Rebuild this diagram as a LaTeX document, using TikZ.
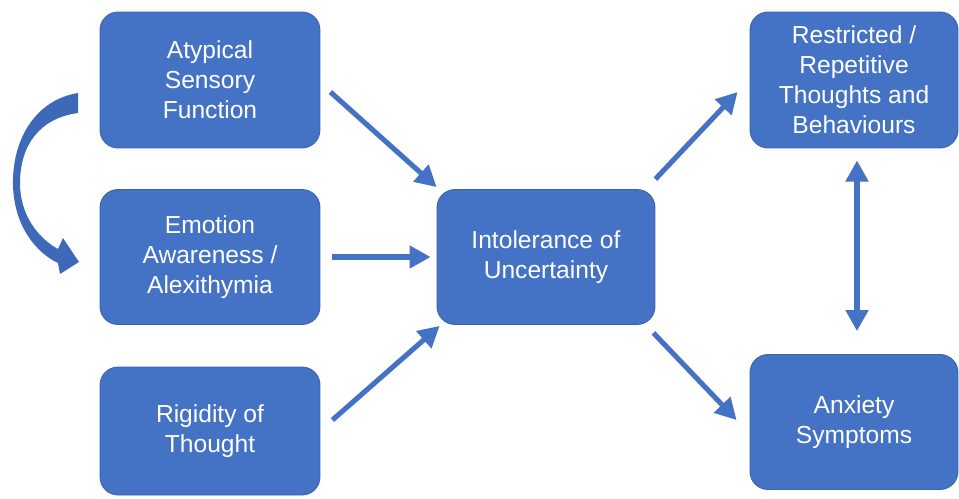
\documentclass[tikz,border=0pt]{standalone}
\usepackage{fontspec}
\setmainfont{Liberation Sans}
\usepackage{xcolor}
\usepackage{tikz}
\usetikzlibrary{arrows.meta}
\definecolor{IUBlue}{HTML}{4472C4}
\definecolor{IUEdge}{HTML}{3A63AE}
\definecolor{IUCurve}{HTML}{3D69B8}

\begin{document}
\begin{tikzpicture}[x=0.02cm,y=-0.02cm,
  box/.style={fill=IUBlue,draw=IUEdge,line width=.5pt,rounded corners=.36cm,
    inner sep=0pt,align=center,text=white,
    font=\fontsize{14}{17}\selectfont},
  flow/.style={IUBlue,line width=2.9pt,-{Triangle[length=12pt,width=12.5pt]}},
  both/.style={IUBlue,line width=2.9pt,{Triangle[length=12pt,width=12.5pt]}-{Triangle[length=12pt,width=12.5pt]}}]
\path[use as bounding box] (0,0) rectangle (959,498);
\fill[white] (0,0) rectangle (959,498);
% left column
\node[box,minimum width=4.4cm,minimum height=2.72cm] (sens) at (210,80) {Atypical\\Sensory\\Function};
\node[box,minimum width=4.4cm,minimum height=2.7cm] (emo) at (210,257) {Emotion\\Awareness /\\Alexithymia};
\node[box,minimum width=4.4cm,minimum height=2.56cm] (rig) at (210,431) {Rigidity of\\Thought};
% middle
\node[box,minimum width=4.36cm,minimum height=2.7cm] (iou) at (546,257) {Intolerance of\\Uncertainty};
% right column
\node[box,minimum width=4.16cm,minimum height=2.72cm] (rrb) at (854,80) {Restricted /\\Repetitive\\Thoughts and\\Behaviours};
\node[box,minimum width=4.16cm,minimum height=2.7cm] (anx) at (854,422) {Anxiety\\Symptoms};
% arrows
\draw[flow] ([shift={(10,12)}]sens.east) -- ([shift={(0,-2)}]iou.north west);
\draw[flow] ([shift={(12,0)}]emo.east) -- ([shift={(-6,0)}]iou.west);
\draw[flow] ([shift={(12,-11)}]rig.east) -- ([shift={(3,1)}]iou.south west);
\draw[flow] ([shift={(0,-10)}]iou.north east) -- ([shift={(-12,12)}]rrb.west);
\draw[flow] ([shift={(-2,8)}]iou.south east) -- ([shift={(-13,-2)}]anx.west);
\draw[both] ([shift={(3,12)}]rrb.south) -- ([shift={(3,-23)}]anx.north);
% curved arrow
\fill[IUCurve] (78,93) .. controls (35,100) and (12,140) .. (13,185)
  .. controls (14,225) and (35,252) .. (58,263) -- (60,274) -- (79,262) -- (63,238) -- (58,249)
  .. controls (38,238) and (20,215) .. (20,183)
  .. controls (20,145) and (40,118) .. (78,113) -- cycle;
\end{tikzpicture}
\end{document}
